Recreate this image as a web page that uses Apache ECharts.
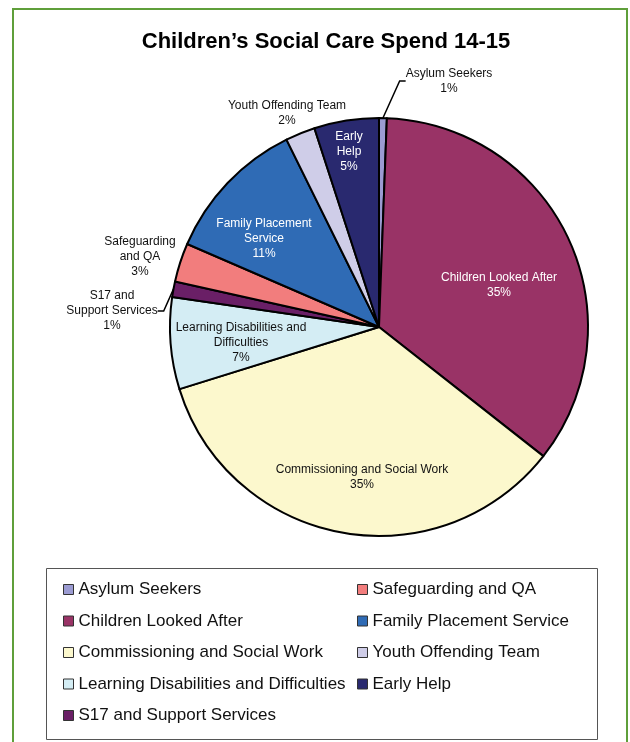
<!DOCTYPE html>
<html>
<head>
<meta charset="utf-8">
<script src="https://cdn.jsdelivr.net/npm/echarts@6/dist/echarts.min.js"></script>
<style>
html,body{margin:0;padding:0;background:#fff;}
#chart{width:630px;height:742px;}
</style>
</head>
<body>
<div id="chart"></div>
<script>
// ---- data ----
const titleText = "Children\u2019s Social Care Spend 14-15";
const categories = [
  "Asylum Seekers",
  "Children Looked After",
  "Commissioning and Social Work",
  "Learning Disabilities and Difficulties",
  "S17 and Support Services",
  "Safeguarding and QA",
  "Family Placement Service",
  "Youth Offending Team",
  "Early Help"
];
const spendShare = [0.6, 35.0, 34.6, 7.1, 1.2, 3.0, 11.2, 2.3, 5.0];
const sliceLabels = [
  "Asylum Seekers",
  "Children Looked After",
  "Commissioning and Social Work",
  "Learning Disabilities and\nDifficulties",
  "S17 and\nSupport Services",
  "Safeguarding\nand QA",
  "Family Placement\nService",
  "Youth Offending Team",
  "Early\nHelp"
];
const legendCol1 = categories.slice(0, 5);
const legendCol2 = categories.slice(5);

// ---- styles ----
const colors = ["#9b9bd2", "#993366", "#fcf8cd", "#d4edf4", "#6a1f66", "#f27d7d", "#2f6bb5", "#cfcde8", "#29296f"];
const labelColors = ["#111", "#fff", "#111", "#111", "#111", "#111", "#fff", "#111", "#fff"];
const insideFlag = [false, true, true, true, false, false, true, false, true];
const leaderFlag = [true, false, false, false, true, false, false, false, false];
// label block centres (text layout)
const labelCenters = [[449, 81], [499, 285], [362, 477], [241, 343], [112, 311], [140, 257], [264, 239], [287, 113], [349, 152]];
const FONT = "'Liberation Sans', Arial, sans-serif";

const chart = echarts.init(document.getElementById('chart'), null, {renderer: 'canvas'});

const data = categories.map((name, i) => ({
  name: name,
  value: spendShare[i],
  itemStyle: {color: colors[i]},
  label: {
    position: insideFlag[i] ? 'inside' : 'outside',
    color: labelColors[i]
  },
  labelLine: {show: leaderFlag[i], lineStyle: {color: '#000', width: 1.5}, length: 20, length2: 6}
}));

const legendBase = {
  orient: 'vertical',
  top: 581,
  padding: 0,
  itemWidth: 10,
  itemHeight: 10,
  itemGap: 14.5,
  icon: 'rect',
  itemStyle: {borderColor: '#333', borderWidth: 1},
  textStyle: {fontFamily: FONT, fontSize: 17, color: '#111', lineHeight: 17},
  selectedMode: false
};

chart.setOption({
  backgroundColor: '#fff',
  animation: false,
  title: {
    text: titleText,
    left: 326,
    textAlign: 'center',
    top: 31,
    padding: 0,
    textStyle: {fontFamily: FONT, fontSize: 22, fontWeight: 'bold', color: '#000'}
  },
  graphic: [
    {type: 'rect', shape: {x: 13, y: 9, width: 614, height: 800}, style: {fill: 'none', stroke: '#5f9f3a', lineWidth: 2}, silent: true},
    {type: 'rect', shape: {x: 46.5, y: 568.5, width: 551, height: 171}, style: {fill: 'none', stroke: '#555', lineWidth: 1}, silent: true}
  ],
  legend: [
    Object.assign({}, legendBase, {left: 63, data: legendCol1}),
    Object.assign({}, legendBase, {left: 357, data: legendCol2})
  ],
  series: [{
    type: 'pie',
    center: [379, 327],
    radius: 209,
    startAngle: 90,
    clockwise: true,
    avoidLabelOverlap: false,
    itemStyle: {borderColor: '#000', borderWidth: 2},
    label: {
      show: true,
      fontFamily: FONT,
      fontSize: 12,
      lineHeight: 15,
      align: 'center',
      formatter: p => sliceLabels[p.dataIndex] + '\n' + Math.round(p.value) + '%'
    },
    labelLayout: function (p) {
      const c = labelCenters[p.dataIndex];
      return {x: c[0], y: c[1], align: 'center', verticalAlign: 'middle'};
    },
    data: data
  }]
});
</script>
</body>
</html>
